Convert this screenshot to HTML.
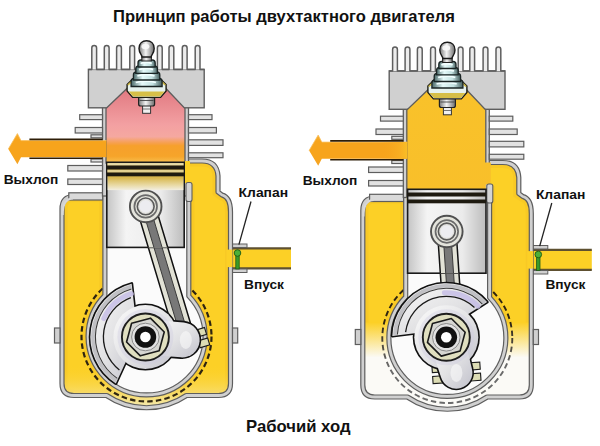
<!DOCTYPE html><html><head><meta charset="utf-8"><style>html,body{margin:0;padding:0;background:#fff;overflow:hidden}svg{display:block;}</style></head><body><svg width="600" height="446" viewBox="0 0 600 446">
<defs>
<linearGradient id="pk" x1="0" y1="88" x2="0" y2="163" gradientUnits="userSpaceOnUse">
<stop offset="0" stop-color="#e07880"/><stop offset="0.49" stop-color="#f3a0a2"/>
<stop offset="0.65" stop-color="#f5a8a0"/><stop offset="0.73" stop-color="#f6a050"/>
<stop offset="0.77" stop-color="#f6a02c"/><stop offset="0.91" stop-color="#f6a42a"/><stop offset="1" stop-color="#f8c050"/></linearGradient>
<linearGradient id="ar" x1="0" y1="0" x2="0" y2="1">
<stop offset="0" stop-color="#f8b030"/><stop offset="0.2" stop-color="#f7a41c"/><stop offset="0.8" stop-color="#f7a41c"/>
<stop offset="1" stop-color="#f4a428"/></linearGradient>
<linearGradient id="ar2" x1="0" y1="0" x2="1" y2="0">
<stop offset="0" stop-color="#f7a41c" stop-opacity="0"/><stop offset="0.7" stop-color="#f8ae22"/><stop offset="1" stop-color="#f9be26"/></linearGradient>
<linearGradient id="ps" x1="0" y1="0" x2="1" y2="0">
<stop offset="0" stop-color="#c4c4c4"/><stop offset="0.25" stop-color="#f4f4f4"/>
<stop offset="0.7" stop-color="#ebebeb"/><stop offset="1" stop-color="#bcbcbc"/></linearGradient>
<linearGradient id="gd" x1="0" y1="0" x2="0" y2="1">
<stop offset="0" stop-color="#c8a040"/><stop offset="0.55" stop-color="#d8b850"/><stop offset="0.8" stop-color="#e8d8a0"/><stop offset="1" stop-color="#f2eee0"/></linearGradient>
<linearGradient id="kn" x1="0" y1="0" x2="1" y2="0">
<stop offset="0" stop-color="#7a7a7a"/><stop offset="0.45" stop-color="#f4f4f4"/><stop offset="1" stop-color="#6a6a6a"/></linearGradient>
<linearGradient id="ins" x1="0" y1="0" x2="1" y2="0">
<stop offset="0" stop-color="#4a6a6a"/><stop offset="0.35" stop-color="#e6fafa"/><stop offset="0.7" stop-color="#c4e2e2"/><stop offset="1" stop-color="#466060"/></linearGradient>
<linearGradient id="cw" x1="0" y1="0" x2="1" y2="1">
<stop offset="0" stop-color="#fafafa"/><stop offset="0.55" stop-color="#e2e2e4"/><stop offset="1" stop-color="#c2c2cc"/></linearGradient>
<linearGradient id="fade" x1="0" y1="321" x2="0" y2="356" gradientUnits="userSpaceOnUse">
<stop offset="0" stop-color="#fcd026"/><stop offset="1" stop-color="#fbfaf6"/></linearGradient>
<linearGradient id="ybot" x1="0" y1="365" x2="0" y2="405" gradientUnits="userSpaceOnUse">
<stop offset="0" stop-color="#fcd026" stop-opacity="0"/><stop offset="1" stop-color="#f4e8a8"/></linearGradient>
<linearGradient id="yc" x1="0" y1="88" x2="0" y2="200" gradientUnits="userSpaceOnUse">
<stop offset="0" stop-color="#f9c22a"/><stop offset="1" stop-color="#f8bf2a"/></linearGradient>
<linearGradient id="dg" x1="0" y1="320" x2="0" y2="365" gradientUnits="userSpaceOnUse">
<stop offset="0" stop-color="#2e2410"/><stop offset="1" stop-color="#6a6a6a"/></linearGradient>
</defs>
<clipPath id="cc"><path d="M 102 196.5 L 74 196.5 Q 62 196.5 62 209 L 62 383.5 Q 62 395.5 74 395.5 L 106.6 395.5 A 71.2 71.2 0 0 0 186.4 395.5 L 218.5 395.5 Q 230.5 395.5 230.5 383.5 L 230.5 212 Q 230.5 197 222 195 L 218 192 L 218 176 Q 217 161 202 161 L 188 161 Z"/></clipPath>
<rect width="600" height="446" fill="#ffffff"/>
<g transform="translate(0,0)">
<rect x="229" y="248.4" width="62" height="20" fill="#fcd026"/>
<line x1="229" y1="248.4" x2="291" y2="248.4" stroke="#5e5030" stroke-width="2.2"/>
<line x1="229" y1="268.3" x2="291" y2="268.3" stroke="#5e5030" stroke-width="2.2"/>
<rect x="230" y="244" width="17" height="3.5" fill="#d0d0d0" stroke="#5e5e5e" stroke-width="1"/>
<rect x="230" y="269" width="17" height="3.5" fill="#d0d0d0" stroke="#5e5e5e" stroke-width="1"/>
<path d="M 102 196.5 L 74 196.5 Q 62 196.5 62 209 L 62 383.5 Q 62 395.5 74 395.5 L 106.6 395.5 A 71.2 71.2 0 0 0 186.4 395.5 L 218.5 395.5 Q 230.5 395.5 230.5 383.5 L 230.5 212 Q 230.5 197 222 195 L 218 192 L 218 176 Q 217 161 202 161 L 188 161 Z" fill="#fcd026"/>
<g clip-path="url(#cc)"><path d="M 102 196.5 L 74 196.5 Q 62 196.5 62 209 L 62 383.5 Q 62 395.5 74 395.5 L 106.6 395.5 A 71.2 71.2 0 0 0 186.4 395.5 L 218.5 395.5 Q 230.5 395.5 230.5 383.5 L 230.5 212 Q 230.5 197 222 195 L 218 192 L 218 176 Q 217 161 202 161 L 188 161 Z" fill="none" stroke="#f4c224" stroke-width="11" opacity="0.55"/><path d="M 104.9 190 L 104.9 295.4 A 58.5 58.5 0 1 0 188.8 296 L 188.8 190 Z" fill="none" stroke="#f4c224" stroke-width="11" opacity="0.55"/></g>
<path d="M 50 365 L 240 365 L 240 420 L 50 420 Z" fill="url(#ybot)" clip-path="url(#cc)"/>
<path d="M 102 196.5 L 74 196.5 Q 62 196.5 62 209 L 62 383.5 Q 62 395.5 74 395.5 L 106.6 395.5 A 71.2 71.2 0 0 0 186.4 395.5 L 218.5 395.5 Q 230.5 395.5 230.5 383.5 L 230.5 212 Q 230.5 197 222 195 L 218 192 L 218 176 Q 217 161 202 161 L 188 161" fill="none" stroke="#5e5e5e" stroke-width="5.2" stroke-linejoin="round" />
<path d="M 102 196.5 L 74 196.5 Q 62 196.5 62 209 L 62 383.5 Q 62 395.5 74 395.5 L 106.6 395.5 A 71.2 71.2 0 0 0 186.4 395.5 L 218.5 395.5 Q 230.5 395.5 230.5 383.5 L 230.5 212 Q 230.5 197 222 195 L 218 192 L 218 176 Q 217 161 202 161 L 188 161" fill="none" stroke="#d0d0d0" stroke-width="2.8" stroke-linejoin="round" />
<rect x="68.8" y="192.8" width="34" height="7.2" fill="#dadada" stroke="#5e5e5e" stroke-width="1.2"/>
<path d="M 62.6 215 Q 62.6 198.5 73 198.5" fill="none" stroke="#d8d8d8" stroke-width="2.2"/>
<rect x="226.5" y="249.6" width="6" height="17.5" fill="#fcd026"/>
<rect x="54.5" y="328" width="5.5" height="15" fill="#d0d0d0" stroke="#5e5e5e" stroke-width="1.2"/>
<rect x="232.5" y="328" width="5.2" height="15" fill="#d0d0d0" stroke="#5e5e5e" stroke-width="1.2"/>
<circle cx="146.5" cy="336.5" r="65" fill="none" stroke="#2e2410" stroke-width="2.2" stroke-dasharray="5.5 3.2"/>
<path d="M 104.9 190 L 104.9 295.4 A 58.5 58.5 0 1 0 188.8 296 L 188.8 190 Z" fill="#fbfbfb"/>
<path d="M 104.9 190 L 104.9 295.4 A 58.5 58.5 0 1 0 188.8 296 L 188.8 190 Z" fill="none" stroke="#5e5e5e" stroke-width="5.2" stroke-linejoin="round" />
<path d="M 104.9 190 L 104.9 295.4 A 58.5 58.5 0 1 0 188.8 296 L 188.8 190 Z" fill="none" stroke="#d0d0d0" stroke-width="2.8" stroke-linejoin="round" />
<rect x="102.5" y="106" width="86" height="90" fill="#d0d0d0" stroke="#5e5e5e" stroke-width="1.3"/>
<rect x="88.4" y="69.4" width="115.8" height="38.4" fill="#d0d0d0" stroke="#5e5e5e" stroke-width="1.4"/>
<path d="M 88.4 69.4 L 91.8 69.4 L 91.8 48 Q 91.8 45.6 94.2 45.6 Q 96.6 45.6 96.6 48 L 96.6 69.4 L 104.3 69.4 L 104.3 48 Q 104.3 45.6 106.7 45.6 Q 109.1 45.6 109.1 48 L 109.1 69.4 L 116.6 69.4 L 116.6 48 Q 116.6 45.6 119 45.6 Q 121.4 45.6 121.4 48 L 121.4 69.4 L 129.8 69.4 L 129.8 48 Q 129.8 45.6 132.2 45.6 Q 134.6 45.6 134.6 48 L 134.6 69.4 L 157.4 69.4 L 157.4 48 Q 157.4 45.6 159.8 45.6 Q 162.2 45.6 162.2 48 L 162.2 69.4 L 169 69.4 L 169 48 Q 169 45.6 171.4 45.6 Q 173.8 45.6 173.8 48 L 173.8 69.4 L 182.3 69.4 L 182.3 48 Q 182.3 45.6 184.7 45.6 Q 187.1 45.6 187.1 48 L 187.1 69.4 L 195.2 69.4 L 195.2 48 Q 195.2 45.6 197.6 45.6 Q 200 45.6 200 48 L 200 69.4 L 204.2 69.4 Z" fill="#ececec" stroke="none"/>
<path d="M 88.4 69.4 L 91.8 69.4 L 91.8 48 Q 91.8 45.6 94.2 45.6 Q 96.6 45.6 96.6 48 L 96.6 69.4 L 104.3 69.4 L 104.3 48 Q 104.3 45.6 106.7 45.6 Q 109.1 45.6 109.1 48 L 109.1 69.4 L 116.6 69.4 L 116.6 48 Q 116.6 45.6 119 45.6 Q 121.4 45.6 121.4 48 L 121.4 69.4 L 129.8 69.4 L 129.8 48 Q 129.8 45.6 132.2 45.6 Q 134.6 45.6 134.6 48 L 134.6 69.4 L 157.4 69.4 L 157.4 48 Q 157.4 45.6 159.8 45.6 Q 162.2 45.6 162.2 48 L 162.2 69.4 L 169 69.4 L 169 48 Q 169 45.6 171.4 45.6 Q 173.8 45.6 173.8 48 L 173.8 69.4 L 182.3 69.4 L 182.3 48 Q 182.3 45.6 184.7 45.6 Q 187.1 45.6 187.1 48 L 187.1 69.4 L 195.2 69.4 L 195.2 48 Q 195.2 45.6 197.6 45.6 Q 200 45.6 200 48 L 200 69.4 L 204.2 69.4" fill="none" stroke="#5e5e5e" stroke-width="1.5" stroke-linejoin="round"/>
<rect x="79.7" y="114.7" width="22.8" height="4.9" fill="#e2e2e2" stroke="#5e5e5e" stroke-width="1.2"/>
<rect x="75.2" y="127.5" width="27.3" height="5.5" fill="#e2e2e2" stroke="#5e5e5e" stroke-width="1.2"/>
<rect x="67.8" y="165.5" width="34.7" height="5.5" fill="#e2e2e2" stroke="#5e5e5e" stroke-width="1.2"/>
<rect x="67.8" y="179" width="34.7" height="5.5" fill="#e2e2e2" stroke="#5e5e5e" stroke-width="1.2"/>
<rect x="91" y="134.8" width="11.5" height="3" fill="#e2e2e2" stroke="#5e5e5e" stroke-width="1.2"/>
<rect x="91" y="159" width="11.5" height="3" fill="#e2e2e2" stroke="#5e5e5e" stroke-width="1.2"/>
<rect x="188.5" y="114.7" width="23.5" height="4.9" fill="#e2e2e2" stroke="#5e5e5e" stroke-width="1.2"/>
<rect x="188.5" y="127.5" width="27.9" height="5.5" fill="#e2e2e2" stroke="#5e5e5e" stroke-width="1.2"/>
<rect x="188.5" y="139.8" width="34.5" height="5.6" fill="#e2e2e2" stroke="#5e5e5e" stroke-width="1.2"/>
<rect x="188.5" y="152.8" width="34.5" height="4.9" fill="#e2e2e2" stroke="#5e5e5e" stroke-width="1.2"/>
<path d="M 106 108.5 L 128 87.5 L 165 87.5 L 185 108.5 L 185 163 L 106 163 Z" fill="url(#pk)" stroke="#5e5e5e" stroke-width="1.3"/>
<rect x="106" y="163" width="79" height="33" fill="#fbfbfb"/>
<rect x="185" y="161" width="5" height="22" fill="#fcd026"/>
<rect x="186" y="182.5" width="6" height="19" rx="2" fill="#d4d4d4" stroke="#5e5e5e" stroke-width="1.1"/>
<g transform="translate(0,0)">
<path d="M 8.3 149 L 17.4 133.6 L 21 140.6 L 106.5 140.6 L 106.5 157.2 L 21 157.2 L 17.4 164.2 Z" fill="url(#ar)"/>
<path d="M 8.3 149 L 17.4 133.6 L 21 140.6 L 106.5 140.6" fill="none" stroke="#f9c060" stroke-width="1" opacity="0.8"/>
<line x1="29.4" y1="139.4" x2="102.5" y2="139.4" stroke="#2e1e08" stroke-width="1.6"/>
<line x1="29.4" y1="158.3" x2="102.5" y2="158.3" stroke="#2e1e08" stroke-width="1.6"/>
</g>
<path d="M 136.79 209.07 L 176.89 342.67 L 194.71 337.33 L 154.61 203.73 Z" fill="#e2e2d6" stroke="#111" stroke-width="1.5"/>
<path d="M 141.96 207.52 L 182.06 341.12 L 189.54 338.88 L 149.44 205.28 Z" fill="#787878" stroke="#3a3a3a" stroke-width="1"/>
<rect x="-5" y="-3.6" width="10" height="7.2" transform="translate(200.74,332.38) rotate(-16.71)" fill="#dcdcb4" stroke="#1a1a1a" stroke-width="1.1"/>
<rect x="-5" y="-3.6" width="10" height="7.2" transform="translate(203.9,342.92) rotate(-16.71)" fill="#dcdcb4" stroke="#1a1a1a" stroke-width="1.1"/>
<g fill="none" stroke="#111" stroke-width="3.2" stroke-linejoin="round"><path d="M 125.6 362.14 L 115.85 383.39 A 55 55 0 0 1 131.63 283.75 L 134.33 306.97 Z"/><circle cx="145.4" cy="337" r="32"/><path d="M 144.03 354.45 L 180.91 357.35 A 17.5 17.5 0 0 0 183.66 322.46 L 146.77 319.55 Z"/></g>
<g fill="url(#cw)" stroke="none"><path d="M 125.6 362.14 L 115.85 383.39 A 55 55 0 0 1 131.63 283.75 L 134.33 306.97 Z"/><circle cx="145.4" cy="337" r="32"/><path d="M 144.03 354.45 L 180.91 357.35 A 17.5 17.5 0 0 0 183.66 322.46 L 146.77 319.55 Z"/></g>
<path d="M 116.31 380.71 A 52.5 52.5 0 0 1 131.24 286.45" fill="none" stroke="#c0c0c4" stroke-width="3.6"/>
<path d="M 117.28 378.34 A 50 50 0 0 1 131.43 288.99" fill="none" stroke="#3a3a3a" stroke-width="1.1"/>
<path d="M 103.81 318.54 A 45.5 45.5 0 0 1 131.39 293.71" fill="none" stroke="#c4bce6" stroke-width="5" stroke-linecap="round" opacity="0.8"/>
<path d="M 119.41 369.99 A 42 42 0 0 1 130.88 297.59" fill="none" stroke="#1a1a1a" stroke-width="1.3"/>
<circle cx="145.4" cy="337" r="28" fill="#ccc8e0" opacity="0.35"/>
<ellipse cx="185.8" cy="340" rx="6" ry="9" fill="#fafafa" opacity="0.6"/>
<circle cx="145.4" cy="337" r="23.5" fill="#e0dfc0" stroke="#1e1e1e" stroke-width="1.9"/>
<polygon points="159.19,350.79 140.35,355.84 126.56,342.05 131.61,323.21 150.45,318.16 164.24,331.95" fill="#d6d6d2" stroke="#1a1a1a" stroke-width="1.6" stroke-linejoin="round"/>
<circle cx="145.4" cy="337" r="13.8" fill="#e2e2e2" stroke="#8a8a8a" stroke-width="1"/>
<circle cx="145.4" cy="337" r="10.8" fill="#111"/>
<circle cx="145.4" cy="337" r="5.3" fill="#fff"/>
<rect x="106.8" y="162.3" width="77.4" height="85.1" fill="url(#ps)" stroke="#1a1a1a" stroke-width="1.6"/>
<rect x="107.6" y="163.1" width="75.8" height="27" fill="url(#gd)"/>
<rect x="107.6" y="163.1" width="75.8" height="2.6" fill="#e8dca8"/>
<rect x="107.6" y="169.7" width="75.8" height="3" fill="#e2d090"/>
<rect x="106.8" y="165.5" width="77.4" height="4" fill="#1e1a10"/>
<rect x="106.8" y="172.5" width="77.4" height="3.8" fill="#1e1a10"/>
<clipPath id="bl"><rect x="100" y="150" width="100" height="97.4"/></clipPath>
<g clip-path="url(#bl)">
<path d="M 136.79 209.07 L 176.89 342.67 L 194.71 337.33 L 154.61 203.73 Z" fill="#e2e2d6" stroke="#111" stroke-width="1.5"/>
<path d="M 141.96 207.52 L 182.06 341.12 L 189.54 338.88 L 149.44 205.28 Z" fill="#787878" stroke="#3a3a3a" stroke-width="1"/>
</g>
<circle cx="145.7" cy="206.4" r="15.8" fill="#e4e4dc" stroke="#505050" stroke-width="1.9"/>
<circle cx="145.7" cy="206.4" r="11.3" fill="none" stroke="#6a6a6a" stroke-width="1.7"/>
<circle cx="145.7" cy="206.4" r="8.4" fill="#e0e0dc" stroke="#5a5a5a" stroke-width="1.6"/>
<circle cx="145.7" cy="206.4" r="6.3" fill="#ececf0"/>
<rect x="142.6" y="105" width="8" height="8.3" fill="#f0f0f0" stroke="#333" stroke-width="1"/>
<line x1="142.6" y1="109" x2="150.6" y2="109" stroke="#555" stroke-width="0.8"/>
<rect x="138.6" y="95" width="16" height="11" rx="2" fill="url(#kn)" stroke="#222" stroke-width="1.2"/>
<line x1="139.6" y1="100.5" x2="153.6" y2="100.5" stroke="#444" stroke-width="0.9"/>
<path d="M 133.6 78.3 L 159.6 78.3 L 166.1 84.5 L 166.1 91 L 160.6 97.4 L 132.6 97.4 L 127.1 91 L 127.1 84.5 Z" fill="#e6f2ee" stroke="#1e1e14" stroke-width="1.4"/>
<path d="M 128.6 91.5 L 164.6 91.5 L 160.1 96.6 L 133.1 96.6 Z" fill="#d6bf48"/>
<path d="M 127.9 85 L 134.1 79.2 L 159.1 79.2 L 165.3 85" fill="none" stroke="#cdb640" stroke-width="1.6"/>
<path d="M 131.1 86.5 L 131.1 81.5 Q 131.1 78.5 134.1 78.5 L 159.1 78.5 Q 162.1 78.5 162.1 81.5 L 162.1 86.5 Z" fill="url(#ins)" stroke="#1a2424" stroke-width="1.3"/>
<path d="M 135.75 82.5 Q 146.6 79.7 155.9 82.5" fill="none" stroke="#f2ffff" stroke-width="1.8"/>
<path d="M 133.4 80 L 133.4 75 Q 133.4 72 136.4 72 L 156.8 72 Q 159.8 72 159.8 75 L 159.8 80 Z" fill="url(#ins)" stroke="#1a2424" stroke-width="1.3"/>
<path d="M 137.36 76 Q 146.6 73.2 154.52 76" fill="none" stroke="#f2ffff" stroke-width="1.8"/>
<path d="M 135.8 73.3 L 135.8 68.8 Q 135.8 65.8 138.8 65.8 L 154.4 65.8 Q 157.4 65.8 157.4 68.8 L 157.4 73.3 Z" fill="url(#ins)" stroke="#1a2424" stroke-width="1.3"/>
<path d="M 139.04 69.55 Q 146.6 66.92 153.08 69.55" fill="none" stroke="#f2ffff" stroke-width="1.8"/>
<path d="M 138 67 L 138 63 Q 138 60 141 60 L 152.2 60 Q 155.2 60 155.2 63 L 155.2 67 Z" fill="url(#ins)" stroke="#1a2424" stroke-width="1.3"/>
<path d="M 140.58 63.5 Q 146.6 61.05 151.76 63.5" fill="none" stroke="#f2ffff" stroke-width="1.8"/>
<rect x="141.8" y="55.5" width="9.6" height="5.5" fill="url(#kn)" stroke="#222" stroke-width="1"/>
<path d="M 142.1 57 C 142.1 55 139 53.5 139 48.5 C 139 43.6 142.3 40.8 146.6 40.8 C 150.9 40.8 154.2 43.6 154.2 48.5 C 154.2 53.5 151.1 55 151.1 57 Z" fill="url(#kn)" stroke="#1a1a1a" stroke-width="1.4"/>
<ellipse cx="145.4" cy="46.5" rx="4" ry="2.8" fill="#fafafa" opacity="0.9"/>
<rect x="235.8" y="253" width="3.4" height="16" fill="#3a9a2a" stroke="#1e5a14" stroke-width="0.8"/>
<circle cx="237.5" cy="253" r="3.3" fill="#4cb038" stroke="#1e5a14" stroke-width="0.9"/>
<line x1="251" y1="201.5" x2="238.9" y2="244.6" stroke="#222" stroke-width="1.3"/>
</g>
<g transform="translate(300.8,1.5)">
<rect x="229" y="248.4" width="62" height="20" fill="#fcd026"/>
<line x1="229" y1="248.4" x2="291" y2="248.4" stroke="#5e5030" stroke-width="2.2"/>
<line x1="229" y1="268.3" x2="291" y2="268.3" stroke="#5e5030" stroke-width="2.2"/>
<rect x="230" y="244" width="17" height="3.5" fill="#d0d0d0" stroke="#5e5e5e" stroke-width="1"/>
<rect x="230" y="269" width="17" height="3.5" fill="#d0d0d0" stroke="#5e5e5e" stroke-width="1"/>
<path d="M 102 196.5 L 74 196.5 Q 62 196.5 62 209 L 62 383.5 Q 62 395.5 74 395.5 L 106.6 395.5 A 71.2 71.2 0 0 0 186.4 395.5 L 218.5 395.5 Q 230.5 395.5 230.5 383.5 L 230.5 212 Q 230.5 197 222 195 L 218 192 L 218 176 Q 217 161 202 161 L 188 161 Z" fill="#fcd026"/>
<g clip-path="url(#cc)"><path d="M 102 196.5 L 74 196.5 Q 62 196.5 62 209 L 62 383.5 Q 62 395.5 74 395.5 L 106.6 395.5 A 71.2 71.2 0 0 0 186.4 395.5 L 218.5 395.5 Q 230.5 395.5 230.5 383.5 L 230.5 212 Q 230.5 197 222 195 L 218 192 L 218 176 Q 217 161 202 161 L 188 161 Z" fill="none" stroke="#f4c224" stroke-width="11" opacity="0.55"/><path d="M 104.9 190 L 104.9 295.4 A 58.5 58.5 0 1 0 188.8 296 L 188.8 190 Z" fill="none" stroke="#f4c224" stroke-width="11" opacity="0.55"/></g>
<path d="M 50 321 L 240 321 L 240 420 L 50 420 Z" fill="url(#fade)" clip-path="url(#cc)"/>
<path d="M 102 196.5 L 74 196.5 Q 62 196.5 62 209 L 62 383.5 Q 62 395.5 74 395.5 L 106.6 395.5 A 71.2 71.2 0 0 0 186.4 395.5 L 218.5 395.5 Q 230.5 395.5 230.5 383.5 L 230.5 212 Q 230.5 197 222 195 L 218 192 L 218 176 Q 217 161 202 161 L 188 161" fill="none" stroke="#5e5e5e" stroke-width="5.2" stroke-linejoin="round" />
<path d="M 102 196.5 L 74 196.5 Q 62 196.5 62 209 L 62 383.5 Q 62 395.5 74 395.5 L 106.6 395.5 A 71.2 71.2 0 0 0 186.4 395.5 L 218.5 395.5 Q 230.5 395.5 230.5 383.5 L 230.5 212 Q 230.5 197 222 195 L 218 192 L 218 176 Q 217 161 202 161 L 188 161" fill="none" stroke="#d0d0d0" stroke-width="2.8" stroke-linejoin="round" />
<rect x="68.8" y="192.8" width="34" height="7.2" fill="#dadada" stroke="#5e5e5e" stroke-width="1.2"/>
<path d="M 62.6 215 Q 62.6 198.5 73 198.5" fill="none" stroke="#d8d8d8" stroke-width="2.2"/>
<rect x="226.5" y="249.6" width="6" height="17.5" fill="#fcd026"/>
<rect x="54.5" y="328" width="5.5" height="15" fill="#d0d0d0" stroke="#5e5e5e" stroke-width="1.2"/>
<rect x="232.5" y="328" width="5.2" height="15" fill="#d0d0d0" stroke="#5e5e5e" stroke-width="1.2"/>
<circle cx="146.5" cy="336.5" r="65" fill="none" stroke="url(#dg)" stroke-width="1.9" stroke-dasharray="5.5 3.2"/>
<path d="M 104.9 190 L 104.9 295.4 A 58.5 58.5 0 1 0 188.8 296 L 188.8 190 Z" fill="#fbfbfb"/>
<path d="M 104.9 190 L 104.9 295.4 A 58.5 58.5 0 1 0 188.8 296 L 188.8 190 Z" fill="none" stroke="#5e5e5e" stroke-width="5.2" stroke-linejoin="round" />
<path d="M 104.9 190 L 104.9 295.4 A 58.5 58.5 0 1 0 188.8 296 L 188.8 190 Z" fill="none" stroke="#d0d0d0" stroke-width="2.8" stroke-linejoin="round" />
<rect x="102.5" y="106" width="86" height="90" fill="#d0d0d0" stroke="#5e5e5e" stroke-width="1.3"/>
<rect x="88.4" y="69.4" width="115.8" height="38.4" fill="#d0d0d0" stroke="#5e5e5e" stroke-width="1.4"/>
<path d="M 88.4 69.4 L 91.8 69.4 L 91.8 48 Q 91.8 45.6 94.2 45.6 Q 96.6 45.6 96.6 48 L 96.6 69.4 L 104.3 69.4 L 104.3 48 Q 104.3 45.6 106.7 45.6 Q 109.1 45.6 109.1 48 L 109.1 69.4 L 116.6 69.4 L 116.6 48 Q 116.6 45.6 119 45.6 Q 121.4 45.6 121.4 48 L 121.4 69.4 L 129.8 69.4 L 129.8 48 Q 129.8 45.6 132.2 45.6 Q 134.6 45.6 134.6 48 L 134.6 69.4 L 157.4 69.4 L 157.4 48 Q 157.4 45.6 159.8 45.6 Q 162.2 45.6 162.2 48 L 162.2 69.4 L 169 69.4 L 169 48 Q 169 45.6 171.4 45.6 Q 173.8 45.6 173.8 48 L 173.8 69.4 L 182.3 69.4 L 182.3 48 Q 182.3 45.6 184.7 45.6 Q 187.1 45.6 187.1 48 L 187.1 69.4 L 195.2 69.4 L 195.2 48 Q 195.2 45.6 197.6 45.6 Q 200 45.6 200 48 L 200 69.4 L 204.2 69.4 Z" fill="#ececec" stroke="none"/>
<path d="M 88.4 69.4 L 91.8 69.4 L 91.8 48 Q 91.8 45.6 94.2 45.6 Q 96.6 45.6 96.6 48 L 96.6 69.4 L 104.3 69.4 L 104.3 48 Q 104.3 45.6 106.7 45.6 Q 109.1 45.6 109.1 48 L 109.1 69.4 L 116.6 69.4 L 116.6 48 Q 116.6 45.6 119 45.6 Q 121.4 45.6 121.4 48 L 121.4 69.4 L 129.8 69.4 L 129.8 48 Q 129.8 45.6 132.2 45.6 Q 134.6 45.6 134.6 48 L 134.6 69.4 L 157.4 69.4 L 157.4 48 Q 157.4 45.6 159.8 45.6 Q 162.2 45.6 162.2 48 L 162.2 69.4 L 169 69.4 L 169 48 Q 169 45.6 171.4 45.6 Q 173.8 45.6 173.8 48 L 173.8 69.4 L 182.3 69.4 L 182.3 48 Q 182.3 45.6 184.7 45.6 Q 187.1 45.6 187.1 48 L 187.1 69.4 L 195.2 69.4 L 195.2 48 Q 195.2 45.6 197.6 45.6 Q 200 45.6 200 48 L 200 69.4 L 204.2 69.4" fill="none" stroke="#5e5e5e" stroke-width="1.5" stroke-linejoin="round"/>
<rect x="79.7" y="114.7" width="22.8" height="4.9" fill="#e2e2e2" stroke="#5e5e5e" stroke-width="1.2"/>
<rect x="75.2" y="127.5" width="27.3" height="5.5" fill="#e2e2e2" stroke="#5e5e5e" stroke-width="1.2"/>
<rect x="67.8" y="165.5" width="34.7" height="5.5" fill="#e2e2e2" stroke="#5e5e5e" stroke-width="1.2"/>
<rect x="67.8" y="179" width="34.7" height="5.5" fill="#e2e2e2" stroke="#5e5e5e" stroke-width="1.2"/>
<rect x="91" y="134.8" width="11.5" height="3" fill="#e2e2e2" stroke="#5e5e5e" stroke-width="1.2"/>
<rect x="91" y="159" width="11.5" height="3" fill="#e2e2e2" stroke="#5e5e5e" stroke-width="1.2"/>
<rect x="188.5" y="114.7" width="23.5" height="4.9" fill="#e2e2e2" stroke="#5e5e5e" stroke-width="1.2"/>
<rect x="188.5" y="127.5" width="27.9" height="5.5" fill="#e2e2e2" stroke="#5e5e5e" stroke-width="1.2"/>
<rect x="188.5" y="139.8" width="34.5" height="5.6" fill="#e2e2e2" stroke="#5e5e5e" stroke-width="1.2"/>
<rect x="188.5" y="152.8" width="34.5" height="4.9" fill="#e2e2e2" stroke="#5e5e5e" stroke-width="1.2"/>
<path d="M 106 108.5 L 128 87.5 L 165 87.5 L 185 108.5 L 185 161 L 190 161 L 190 183 L 185 183 L 185 196 L 106 196 Z" fill="url(#yc)" stroke="none"/>
<path d="M 106 196 L 106 108.5 L 128 87.5 L 165 87.5 L 185 108.5 L 185 161" fill="none" stroke="#5e5e5e" stroke-width="1.3"/>
<rect x="106" y="196" width="79" height="3" fill="#fcd026"/>
<rect x="186" y="182.5" width="6" height="19" rx="2" fill="#d4d4d4" stroke="#5e5e5e" stroke-width="1.1"/>
<g transform="translate(0,0)">
<path d="M 8.3 149 L 17.4 133.6 L 21 140.6 L 106.5 140.6 L 106.5 157.2 L 21 157.2 L 17.4 164.2 Z" fill="url(#ar)"/>
<path d="M 8.3 149 L 17.4 133.6 L 21 140.6 L 106.5 140.6" fill="none" stroke="#f9c060" stroke-width="1" opacity="0.8"/>
<rect x="80" y="140.6" width="26.5" height="16.6" fill="url(#ar2)"/>
<line x1="29.4" y1="139.4" x2="102.5" y2="139.4" stroke="#2e1e08" stroke-width="1.6"/>
<line x1="29.4" y1="158.3" x2="102.5" y2="158.3" stroke="#2e1e08" stroke-width="1.6"/>
</g>
<path d="M 136.72 230.63 L 146.36 372.02 L 164.91 370.75 L 155.28 229.37 Z" fill="#e2e2d6" stroke="#111" stroke-width="1.5"/>
<path d="M 142.11 230.27 L 151.75 371.65 L 159.53 371.12 L 149.89 229.73 Z" fill="#787878" stroke="#3a3a3a" stroke-width="1"/>
<rect x="-5" y="-3.6" width="10" height="7.2" transform="translate(174.22,364.61) rotate(-3.9)" fill="#dcdcb4" stroke="#1a1a1a" stroke-width="1.1"/>
<rect x="-5" y="-3.6" width="10" height="7.2" transform="translate(174.97,375.58) rotate(-3.9)" fill="#dcdcb4" stroke="#1a1a1a" stroke-width="1.1"/>
<rect x="-5" y="-3.6" width="10" height="7.2" transform="translate(136.31,367.19) rotate(-3.9)" fill="#dcdcb4" stroke="#1a1a1a" stroke-width="1.1"/>
<rect x="-5" y="-3.6" width="10" height="7.2" transform="translate(137.05,378.16) rotate(-3.9)" fill="#dcdcb4" stroke="#1a1a1a" stroke-width="1.1"/>
<g fill="none" stroke="#111" stroke-width="3.2" stroke-linejoin="round"><path d="M 113.75 331.77 L 91.52 334.39 A 54 54 0 0 1 186.32 300.44 L 167.47 312.54 Z"/><circle cx="145.5" cy="335.8" r="32"/><path d="M 128.67 340.59 L 140.25 375.77 A 16 16 0 0 0 171.02 367 L 162.33 331.01 Z"/></g>
<g fill="url(#cw)" stroke="none"><path d="M 113.75 331.77 L 91.52 334.39 A 54 54 0 0 1 186.32 300.44 L 167.47 312.54 Z"/><circle cx="145.5" cy="335.8" r="32"/><path d="M 128.67 340.59 L 140.25 375.77 A 16 16 0 0 0 171.02 367 L 162.33 331.01 Z"/></g>
<path d="M 94.05 333.42 A 51.5 51.5 0 0 1 183.74 301.31" fill="none" stroke="#c0c0c4" stroke-width="3.6"/>
<path d="M 96.58 333.05 A 49 49 0 0 1 181.56 302.62" fill="none" stroke="#3a3a3a" stroke-width="1.1"/>
<path d="M 143.59 291.34 A 44.5 44.5 0 0 1 177.33 304.7" fill="none" stroke="#c4bce6" stroke-width="5" stroke-linecap="round" opacity="0.8"/>
<path d="M 104.83 330.64 A 41 41 0 0 1 173.66 306" fill="none" stroke="#1a1a1a" stroke-width="1.3"/>
<circle cx="145.5" cy="335.8" r="28" fill="#ccc8e0" opacity="0.35"/>
<ellipse cx="155.64" cy="371.38" rx="6" ry="9" fill="#fafafa" opacity="0.6"/>
<circle cx="145.5" cy="335.8" r="23.5" fill="#e0dfc0" stroke="#1e1e1e" stroke-width="1.9"/>
<polygon points="159.29,349.59 140.45,354.64 126.66,340.85 131.71,322.01 150.55,316.96 164.34,330.75" fill="#d6d6d2" stroke="#1a1a1a" stroke-width="1.6" stroke-linejoin="round"/>
<circle cx="145.5" cy="335.8" r="13.8" fill="#e2e2e2" stroke="#8a8a8a" stroke-width="1"/>
<circle cx="145.5" cy="335.8" r="10.8" fill="#111"/>
<circle cx="145.5" cy="335.8" r="5.3" fill="#fff"/>
<rect x="106.8" y="187.8" width="78.4" height="83.9" fill="url(#ps)" stroke="#1a1a1a" stroke-width="1.6"/>
<rect x="106.8" y="191" width="78.4" height="4" fill="#1e1a10"/>
<rect x="106.8" y="198" width="78.4" height="3.8" fill="#1e1a10"/>
<clipPath id="br"><rect x="100" y="178.5" width="100" height="93.2"/></clipPath>
<g clip-path="url(#br)">
<path d="M 136.72 230.63 L 146.36 372.02 L 164.91 370.75 L 155.28 229.37 Z" fill="#e2e2d6" stroke="#111" stroke-width="1.5"/>
<path d="M 142.11 230.27 L 151.75 371.65 L 159.53 371.12 L 149.89 229.73 Z" fill="#787878" stroke="#3a3a3a" stroke-width="1"/>
</g>
<circle cx="146" cy="230" r="15.8" fill="#e4e4dc" stroke="#505050" stroke-width="1.9"/>
<circle cx="146" cy="230" r="11.3" fill="none" stroke="#6a6a6a" stroke-width="1.7"/>
<circle cx="146" cy="230" r="8.4" fill="#e0e0dc" stroke="#5a5a5a" stroke-width="1.6"/>
<circle cx="146" cy="230" r="6.3" fill="#ececf0"/>
<rect x="142.6" y="105" width="8" height="8.3" fill="#f0f0f0" stroke="#333" stroke-width="1"/>
<line x1="142.6" y1="109" x2="150.6" y2="109" stroke="#555" stroke-width="0.8"/>
<rect x="138.6" y="95" width="16" height="11" rx="2" fill="url(#kn)" stroke="#222" stroke-width="1.2"/>
<line x1="139.6" y1="100.5" x2="153.6" y2="100.5" stroke="#444" stroke-width="0.9"/>
<path d="M 133.6 78.3 L 159.6 78.3 L 166.1 84.5 L 166.1 91 L 160.6 97.4 L 132.6 97.4 L 127.1 91 L 127.1 84.5 Z" fill="#e6f2ee" stroke="#1e1e14" stroke-width="1.4"/>
<path d="M 128.6 91.5 L 164.6 91.5 L 160.1 96.6 L 133.1 96.6 Z" fill="#d6bf48"/>
<path d="M 127.9 85 L 134.1 79.2 L 159.1 79.2 L 165.3 85" fill="none" stroke="#cdb640" stroke-width="1.6"/>
<path d="M 131.1 86.5 L 131.1 81.5 Q 131.1 78.5 134.1 78.5 L 159.1 78.5 Q 162.1 78.5 162.1 81.5 L 162.1 86.5 Z" fill="url(#ins)" stroke="#1a2424" stroke-width="1.3"/>
<path d="M 135.75 82.5 Q 146.6 79.7 155.9 82.5" fill="none" stroke="#f2ffff" stroke-width="1.8"/>
<path d="M 133.4 80 L 133.4 75 Q 133.4 72 136.4 72 L 156.8 72 Q 159.8 72 159.8 75 L 159.8 80 Z" fill="url(#ins)" stroke="#1a2424" stroke-width="1.3"/>
<path d="M 137.36 76 Q 146.6 73.2 154.52 76" fill="none" stroke="#f2ffff" stroke-width="1.8"/>
<path d="M 135.8 73.3 L 135.8 68.8 Q 135.8 65.8 138.8 65.8 L 154.4 65.8 Q 157.4 65.8 157.4 68.8 L 157.4 73.3 Z" fill="url(#ins)" stroke="#1a2424" stroke-width="1.3"/>
<path d="M 139.04 69.55 Q 146.6 66.92 153.08 69.55" fill="none" stroke="#f2ffff" stroke-width="1.8"/>
<path d="M 138 67 L 138 63 Q 138 60 141 60 L 152.2 60 Q 155.2 60 155.2 63 L 155.2 67 Z" fill="url(#ins)" stroke="#1a2424" stroke-width="1.3"/>
<path d="M 140.58 63.5 Q 146.6 61.05 151.76 63.5" fill="none" stroke="#f2ffff" stroke-width="1.8"/>
<rect x="141.8" y="55.5" width="9.6" height="5.5" fill="url(#kn)" stroke="#222" stroke-width="1"/>
<path d="M 142.1 57 C 142.1 55 139 53.5 139 48.5 C 139 43.6 142.3 40.8 146.6 40.8 C 150.9 40.8 154.2 43.6 154.2 48.5 C 154.2 53.5 151.1 55 151.1 57 Z" fill="url(#kn)" stroke="#1a1a1a" stroke-width="1.4"/>
<ellipse cx="145.4" cy="46.5" rx="4" ry="2.8" fill="#fafafa" opacity="0.9"/>
<rect x="235.8" y="253" width="3.4" height="16" fill="#3a9a2a" stroke="#1e5a14" stroke-width="0.8"/>
<circle cx="237.5" cy="253" r="3.3" fill="#4cb038" stroke="#1e5a14" stroke-width="0.9"/>
<line x1="251" y1="201.5" x2="238.9" y2="244.6" stroke="#222" stroke-width="1.3"/>
</g>
<text x="113" y="21.7" font-family="Liberation Sans" font-weight="bold" fill="#111" font-size="16.6" textLength="342" lengthAdjust="spacingAndGlyphs">Принцип работы двухтактного двигателя</text>
<text x="246" y="431.5" font-family="Liberation Sans" font-weight="bold" fill="#111" font-size="17" textLength="104.5" lengthAdjust="spacingAndGlyphs">Рабочий ход</text>
<text x="3.7" y="184" font-family="Liberation Sans" font-weight="bold" fill="#111" font-size="13.3" textLength="54.5" lengthAdjust="spacingAndGlyphs">Выхлоп</text>
<text x="302.7" y="184.8" font-family="Liberation Sans" font-weight="bold" fill="#111" font-size="13.3" textLength="54.5" lengthAdjust="spacingAndGlyphs">Выхлоп</text>
<text x="238.6" y="196.6" font-family="Liberation Sans" font-weight="bold" fill="#111" font-size="13" textLength="49.5" lengthAdjust="spacingAndGlyphs">Клапан</text>
<text x="535.9" y="199.3" font-family="Liberation Sans" font-weight="bold" fill="#111" font-size="13" textLength="49.5" lengthAdjust="spacingAndGlyphs">Клапан</text>
<text x="244" y="289" font-family="Liberation Sans" font-weight="bold" fill="#111" font-size="13" textLength="40" lengthAdjust="spacingAndGlyphs">Впуск</text>
<text x="545.4" y="289" font-family="Liberation Sans" font-weight="bold" fill="#111" font-size="13" textLength="40" lengthAdjust="spacingAndGlyphs">Впуск</text>
</svg></body></html>
